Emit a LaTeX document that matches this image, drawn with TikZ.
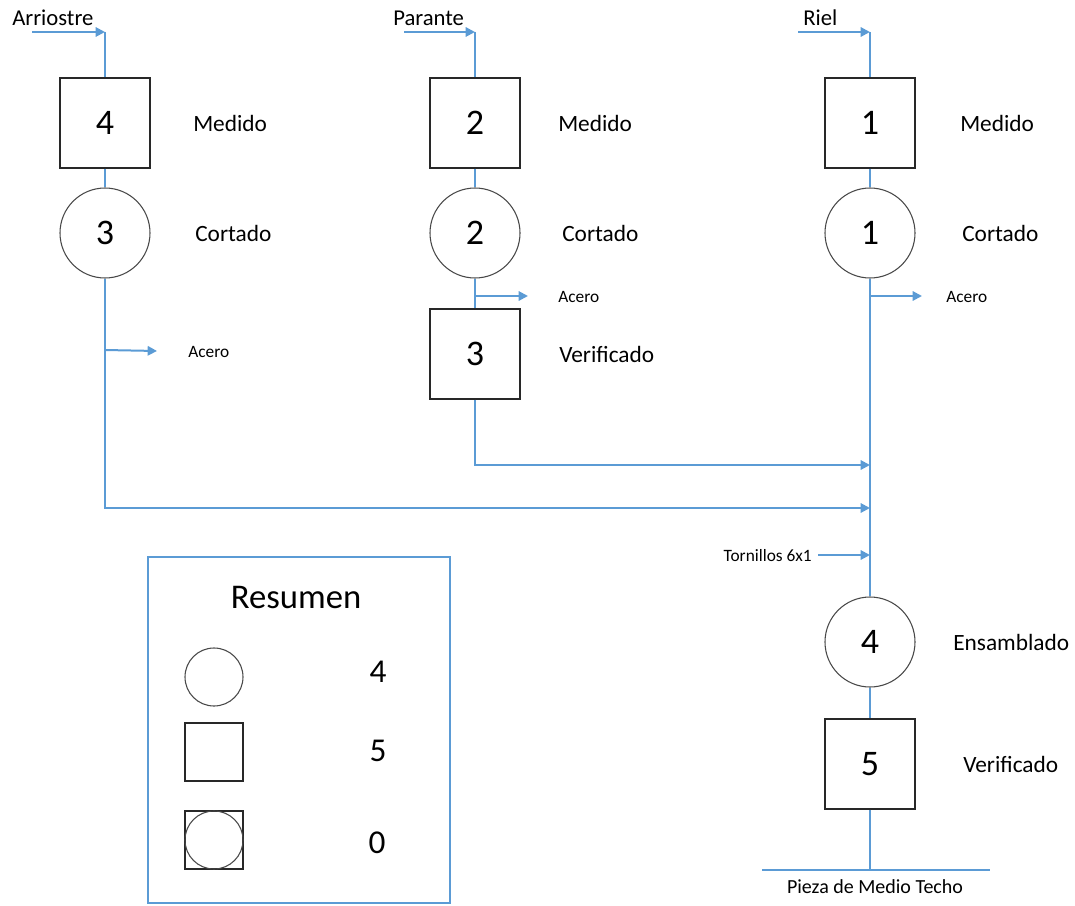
\documentclass[tikz,border=0pt]{standalone}
\usepackage{fontspec}
\setmainfont{Carlito}
\usetikzlibrary{arrows.meta}
\definecolor{flowblue}{RGB}{91,155,213}
\definecolor{edgegray}{RGB}{40,40,40}
\tikzset{
  proc/.style={draw=edgegray, line width=0.8pt, minimum width=67.5pt, minimum height=67.5pt, inner sep=0pt, font=\fontsize{27}{30}\selectfont},
  op/.style={circle, draw=edgegray!85, line width=0.8pt, minimum size=67.5pt, inner sep=0pt, font=\fontsize{27}{30}\selectfont},
  flow/.style={draw=flowblue, line width=1.5pt},
  arr/.style={flow, -{Triangle[length=7pt,width=7pt]}},
  lbl/.style={anchor=west, inner sep=0pt, font=\fontsize{17.5}{22}\selectfont},
  small/.style={anchor=west, inner sep=0pt, font=\fontsize{13}{15}\selectfont},
  toplbl/.style={anchor=west, inner sep=0pt, font=\fontsize{17}{20}\selectfont},
  legnum/.style={inner sep=0pt, font=\fontsize{25}{28}\selectfont},
  legbox/.style={draw=edgegray, line width=0.8pt, minimum width=43.5pt, minimum height=43.5pt, inner sep=0pt},
  legcirc/.style={circle, draw=edgegray!85, line width=0.8pt, minimum size=43.5pt, inner sep=0pt}
}
\begin{document}
\begin{tikzpicture}[x=0.75pt,y=-0.75pt]
\useasboundingbox (0,0) rectangle (1075,906);
% ---- column 1: Arriostre
\node[toplbl] (lA) at (12,18) {Arriostre};
\coordinate (iA0) at (32,32);
\coordinate (iA1) at (105,32);
\node[proc] (b4) at (105,123) {4};
\node[op] (c3) at (105,233) {3};
\node[lbl] (tb4) at (193,123) {Medido};
\node[lbl] (tc3) at (195,233) {Cortado};
\coordinate (sA) at (105,350);
\coordinate (eA) at (157,351);
\node[small] (aA) at (188,352) {Acero};
% ---- column 2: Parante
\node[toplbl] (lP) at (393,18) {Parante};
\coordinate (iP0) at (404,32);
\coordinate (iP1) at (475,32);
\node[proc] (b2) at (475,123) {2};
\node[op] (c2) at (475,233) {2};
\node[proc] (b3) at (475,354) {3};
\node[lbl] (tb2) at (558,123) {Medido};
\node[lbl] (tc2) at (562,233) {Cortado};
\node[lbl] (tb3) at (559,354) {Verificado};
\coordinate (sP) at (475,296);
\coordinate (eP) at (528,296);
\node[small] (aP) at (558,297) {Acero};
% ---- column 3: Riel
\node[toplbl] (lR) at (803,18) {Riel};
\coordinate (iR0) at (798,32);
\coordinate (iR1) at (870,32);
\node[proc] (b1) at (870,123) {1};
\node[op] (c1) at (870,233) {1};
\node[lbl] (tb1) at (960,123) {Medido};
\node[lbl] (tc1) at (962,233) {Cortado};
\coordinate (sR) at (870,296);
\coordinate (eR) at (922,296);
\node[small] (aR) at (946,297) {Acero};
\node[op] (c4) at (870,642) {4};
\node[lbl] (tc4) at (953,642) {Ensamblado};
\node[proc] (b5) at (870,764) {5};
\node[lbl] (tb5) at (963,764) {Verificado};
\coordinate (jP) at (870,465);
\coordinate (jA) at (870,508);
\coordinate (jT) at (870,555);
\coordinate (sT) at (818,555);
\node[small, anchor=east] (tT) at (812,556) {Tornillos 6x1};
\coordinate (out) at (870,870);
\coordinate (outL) at (762,870);
\coordinate (outR) at (990,870);
\node[inner sep=0pt, font=\fontsize{15}{18}\selectfont] (tout) at (875,887) {Pieza de Medio Techo};
% ---- connectors
\draw[arr] (iA0) -- (iA1);
\draw[flow] (iA1) -- (b4.north);
\draw[flow] (b4.south) -- (c3.north);
\draw[arr] (c3.south) |- (jA);
\draw[arr] (sA) -- (eA);
\draw[arr] (iP0) -- (iP1);
\draw[flow] (iP1) -- (b2.north);
\draw[flow] (b2.south) -- (c2.north);
\draw[flow] (c2.south) -- (b3.north);
\draw[arr] (sP) -- (eP);
\draw[arr] (b3.south) |- (jP);
\draw[arr] (iR0) -- (iR1);
\draw[flow] (iR1) -- (b1.north);
\draw[flow] (b1.south) -- (c1.north);
\draw[flow] (c1.south) -- (c4.north);
\draw[arr] (sR) -- (eR);
\draw[arr] (sT) -- (jT);
\draw[flow] (c4.south) -- (b5.north);
\draw[flow] (b5.south) -- (out);
\draw[flow] (outL) -- (outR);
% ---- legend
\draw[draw=flowblue, line width=1pt] (148,557) rectangle (450,903);
\node[inner sep=0pt, font=\fontsize{26}{30}\selectfont] (res) at (296,598) {Resumen};
\node[legcirc] (lc) at (214,677) {};
\node[legbox] (lb) at (214,752) {};
\node[legbox] (lbc) at (214,840) {};
\node[legcirc] (lcc) at (214,840) {};
\node[legnum] (n4) at (378,672) {4};
\node[legnum] (n5) at (378,751) {5};
\node[legnum] (n0) at (377,843) {0};
\end{tikzpicture}
\end{document}
